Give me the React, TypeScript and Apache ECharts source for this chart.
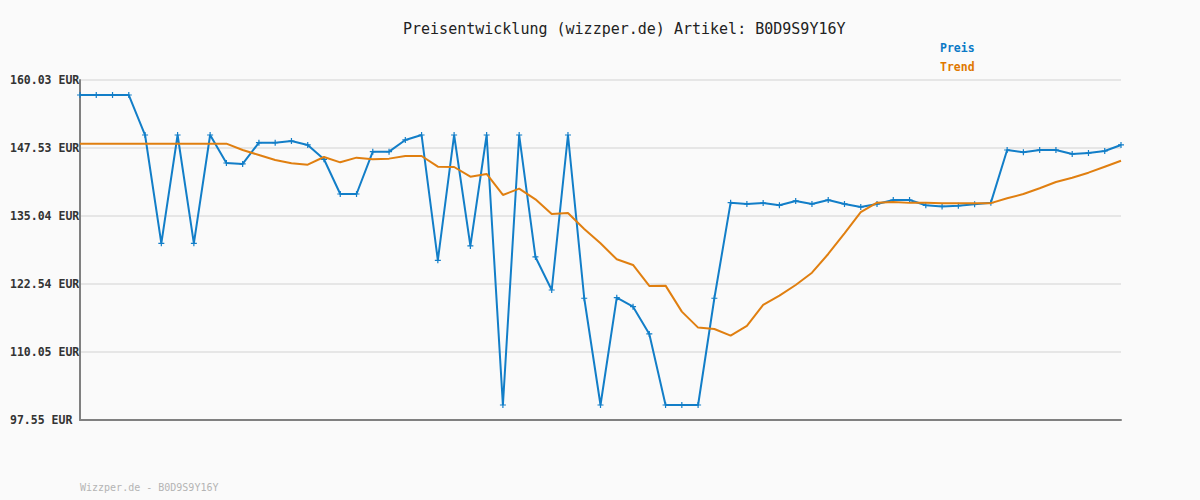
import React, { useEffect, useRef } from "react";
import * as echarts from "echarts";

const titleText = "Preisentwicklung (wizzper.de) Artikel: B0D9S9Y16Y";
const footerText = "Wizzper.de - B0D9S9Y16Y";
const seriesNames = ["Preis", "Trend"];
const yMin = 97.55;
const yMax = 160.03;
const yStep = 12.496;

const preis = [
  157.27, 157.27, 157.27, 157.27, 149.92, 130.02, 149.92, 130.02, 149.92, 144.78,
  144.6, 148.52, 148.52, 148.82, 148.09, 145.46, 139.08, 139.08, 146.86, 146.86,
  149.01, 149.92, 126.9, 149.92, 129.53, 149.92, 100.31, 149.92, 127.51, 121.44,
  149.92, 119.92, 100.31, 120.03, 118.38, 113.36, 100.31, 100.31, 100.31, 119.92,
  137.49, 137.25, 137.43, 137.0, 137.8, 137.25, 137.98, 137.25, 136.7, 137.25,
  137.98, 137.98, 137.0, 136.8, 136.94, 137.19, 137.49, 147.17, 146.74, 147.17,
  147.17, 146.43, 146.62, 146.98, 148.09,
];

const trend = [
  148.33, 148.33, 148.33, 148.33, 148.33, 148.33, 148.33, 148.33, 148.33, 148.33,
  147.17, 146.25, 145.33, 144.72, 144.47, 145.88, 144.9, 145.76, 145.46, 145.58,
  146.07, 146.07, 144.1, 144.04, 142.27, 142.76, 138.9, 140.06, 138.1, 135.41,
  135.6, 132.65, 130.02, 127.08, 126.04, 122.18, 122.24, 117.47, 114.53, 114.28,
  113.05, 114.83, 118.69, 120.4, 122.36, 124.62, 128.06, 131.86, 135.73, 137.49,
  137.61, 137.45, 137.45, 137.4, 137.4, 137.4, 137.4, 138.3, 139.08, 140.13,
  141.29, 142.08, 143.0, 144.1, 145.2,
];

const categories = preis.map((_, i) => String(i + 1));

const MONO = "'DejaVu Sans Mono', 'Liberation Mono', monospace";
const BLUE = "#127ec8";
const ORANGE = "#e07f10";

export default function App() {
  const ref = useRef<HTMLDivElement>(null);
  useEffect(() => {
    if (!ref.current) return;
    const chart = echarts.init(ref.current, null, { renderer: "svg" });
    const shift = (arr: number[]) => arr.map((v) => +(v - yMin).toFixed(4));
    chart.setOption({
      animation: false,
      backgroundColor: "#fafafa",
      title: {
        text: titleText,
        left: 398,
        top: 16,
        textStyle: { fontFamily: MONO, fontSize: 15, fontWeight: "normal", color: "#222" },
      },
      legend: {
        orient: "vertical",
        left: 930,
        top: 36,
        itemWidth: 0,
        itemHeight: 14,
        itemGap: 6,
        icon: "none",
        selectedMode: false,
        textStyle: { fontFamily: MONO, fontSize: 11.5, fontWeight: "bold" },
        data: [
          { name: seriesNames[0], textStyle: { color: "#0b79c6" } },
          { name: seriesNames[1], textStyle: { color: "#e07800" } },
        ],
      },
      graphic: [
        {
          type: "text",
          left: 80,
          top: 482,
          style: { text: footerText, fontFamily: MONO, fontSize: 10, fill: "#b4b4b4" },
        },
      ],
      grid: { left: 80, right: 79, top: 80, bottom: 80, containLabel: false },
      xAxis: {
        type: "category",
        data: categories,
        boundaryGap: false,
        axisLine: { show: true, lineStyle: { color: "#808080", width: 2 } },
        axisTick: { show: false },
        axisLabel: { show: false },
        splitLine: { show: false },
      },
      yAxis: {
        type: "value",
        min: 0,
        max: +(yMax - yMin).toFixed(2),
        interval: yStep,
        axisLine: { show: true, lineStyle: { color: "#808080", width: 2 } },
        axisTick: { show: false },
        axisLabel: {
          margin: 70,
          align: "left",
          fontFamily: MONO,
          fontSize: 11.5,
          fontWeight: "bold",
          color: "#333",
          formatter: (v: number) => (v + yMin).toFixed(2) + " EUR",
        },
        splitLine: { show: true, lineStyle: { color: "#e6e6e6", width: 2 } },
      },
      series: [
        {
          name: seriesNames[0],
          type: "line",
          data: shift(preis),
          color: BLUE,
          lineStyle: { color: BLUE, width: 2 },
          symbol: "path://M2,0 L3,0 L3,2 L5,2 L5,3 L3,3 L3,5 L2,5 L2,3 L0,3 L0,2 L2,2 Z",
          symbolSize: 6,
          showSymbol: true,
          itemStyle: { color: BLUE },
          z: 2,
        },
        {
          name: seriesNames[1],
          type: "line",
          data: shift(trend),
          color: ORANGE,
          lineStyle: { color: ORANGE, width: 2 },
          symbol: "none",
          z: 3,
        },
      ],
    });
    return () => chart.dispose();
  }, []);
  return (
    <div
      ref={ref}
      style={{ position: "fixed", left: 0, top: 0, width: 1200, height: 500 }}
    />
  );
}
